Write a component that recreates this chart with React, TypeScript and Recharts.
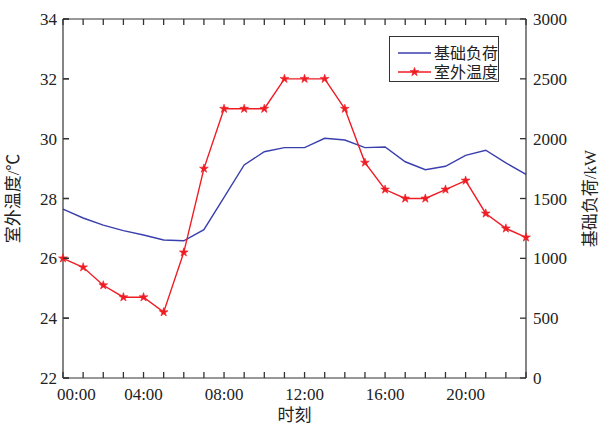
import { Line, LineChart, Symbols, XAxis, YAxis } from "recharts";

const hours = [0, 1, 2, 3, 4, 5, 6, 7, 8, 9, 10, 11, 12, 13, 14, 15, 16, 17, 18, 19, 20, 21, 22, 23];
const temperature = [26, 25.7, 25.1, 24.7, 24.7, 24.2, 26.2, 29, 31, 31, 31, 32, 32, 32, 31, 29.2, 28.3, 28, 28, 28.3, 28.6, 27.5, 27, 26.7];
const baseLoad = [1412, 1337, 1278, 1232, 1195, 1153, 1147, 1239, 1510, 1780, 1891, 1925, 1925, 2003, 1989, 1925, 1930, 1807, 1741, 1769, 1861, 1903, 1797, 1702];
const tempTicks = [22, 24, 26, 28, 30, 32, 34];
const loadTicks = [0, 500, 1000, 1500, 2000, 2500, 3000];
const labeledHours = [0, 4, 8, 12, 16, 20];

const data = hours.map((h, i) => ({ hour: h, temp: temperature[i], load: baseLoad[i] }));

const FONT = '"Liberation Serif", "Times New Roman", "Noto Sans CJK SC", serif';
const AXIS = "#333";
const TEXT = "#222";
const BLUE = "#3a3fae";
const RED = "#f01c24";
const TICK = 6;
const GAP = 8;

// layout of the chart box
const W = 603;
const H = 429;
const MARGIN = { top: 14, right: 10, bottom: 6, left: 0 };
const X_AXIS_H = 45;
const LEFT_W = 63;
const RIGHT_W = 67;
const PLOT_BOTTOM = H - MARGIN.bottom - X_AXIS_H;
const PLOT_LEFT = MARGIN.left + LEFT_W;

const fmtHour = (h: number) => (h < 10 ? "0" + h : "" + h) + ":00";

const BottomLabel = (props: any) => {
  const x = Number(props.x);
  const y = Number(props.y);
  const v = props.payload.value;
  if (!labeledHours.includes(v)) return <g />;
  const first = v === 0;
  return (
    <text x={first ? x - 6 : x} y={y} dy={14} textAnchor={first ? "start" : "middle"} fill={TEXT} fontSize={17} fontFamily={FONT}>
      {fmtHour(v)}
    </text>
  );
};

// top and bottom inward ticks for one hour
const TopTick = (props: any) => {
  const x = Number(props.x);
  const y = Number(props.y);
  return (
    <g>
      <path d={`M${x},${y}L${x},${y + TICK}`} stroke={AXIS} strokeWidth={1.3} fill="none" />
      <path d={`M${x},${PLOT_BOTTOM}L${x},${PLOT_BOTTOM - TICK}`} stroke={AXIS} strokeWidth={1.3} fill="none" />
    </g>
  );
};

const LeftLabel = (props: any) => {
  const x = Number(props.x);
  const y = Number(props.y);
  return (
    <g>
      <path d={`M${PLOT_LEFT},${y}L${PLOT_LEFT + TICK},${y}`} stroke={AXIS} strokeWidth={1.3} fill="none" />
      <text x={x + 2} y={y} dy={6} textAnchor="end" fill={TEXT} fontSize={17} fontFamily={FONT}>
        {props.payload.value}
      </text>
    </g>
  );
};

const RightTick = (props: any) => {
  const x = Number(props.x);
  const y = Number(props.y);
  const axisX = x - GAP;
  return (
    <g>
      <path d={`M${axisX},${y}L${axisX - TICK},${y}`} stroke={AXIS} strokeWidth={1.3} fill="none" />
      <path d={`M${PLOT_LEFT},${y}L${PLOT_LEFT + TICK},${y}`} stroke={AXIS} strokeWidth={1.3} fill="none" />
      <text x={x - 1} y={y} dy={6} textAnchor="start" fill={TEXT} fontSize={17} fontFamily={FONT}>
        {props.payload.value}
      </text>
    </g>
  );
};

const StarDot = (props: any) => {
  const { cx, cy, index } = props;
  if (cx == null || cy == null) return <g key={index} />;
  return <Symbols key={index} cx={cx} cy={cy} type="star" size={24} fill={RED} stroke={RED} strokeWidth={0.6} />;
};

const SideLabel = (text: string, dxFromAxis: number) => (props: any) => {
  const vb = props.viewBox;
  const cx = vb.x + dxFromAxis;
  const cy = vb.y + vb.height / 2;
  return (
    <text x={cx} y={cy} transform={`rotate(-90 ${cx} ${cy})`} textAnchor="middle" dominantBaseline="central" fill={TEXT} fontSize={17} fontFamily={FONT}>
      {text}
    </text>
  );
};

const LegendBox = () => (
  <div style={{ position: "absolute", left: 389, top: 36, border: "1px solid #333", background: "#fff", width: 110, height: 46, boxSizing: "border-box" }}>
    <svg width={108} height={44} style={{ display: "block" }}>
      <line x1={8} y1={16} x2={41} y2={16} stroke={BLUE} strokeWidth={1.4} />
      <text x={44} y={16} dominantBaseline="central" fontSize={16} fill={TEXT} fontFamily={FONT}>基础负荷</text>
      <line x1={8} y1={35} x2={41} y2={35} stroke={RED} strokeWidth={1.4} />
      <Symbols cx={24.5} cy={35} type="star" size={24} fill={RED} stroke={RED} strokeWidth={0.6} />
      <text x={44} y={35} dominantBaseline="central" fontSize={16} fill={TEXT} fontFamily={FONT}>室外温度</text>
    </svg>
  </div>
);

export default function App() {
  return (
    <div style={{ position: "absolute", left: 0, top: 0, width: W, height: H, background: "#fff" }}>
      <LineChart width={W} height={H} data={data} margin={MARGIN}>
        <XAxis
          dataKey="hour"
          type="number"
          domain={[0, 23]}
          ticks={hours}
          interval={0}
          xAxisId="bottom"
          height={X_AXIS_H}
          stroke={AXIS}
          strokeWidth={1.2}
          tickLine={false}
          tickSize={0}
          tickMargin={GAP}
          tick={<BottomLabel />}
          label={{ value: "时刻", position: "insideBottom", offset: 2, fill: TEXT, fontSize: 17, fontFamily: FONT }}
        />
        <XAxis
          dataKey="hour"
          type="number"
          domain={[0, 23]}
          ticks={hours}
          interval={0}
          xAxisId="top"
          orientation="top"
          height={5}
          stroke={AXIS}
          strokeWidth={1.2}
          tickLine={false}
          tickSize={0}
          tickMargin={0}
          tick={<TopTick />}
        />
        <YAxis
          yAxisId="temp"
          domain={[22, 34]}
          ticks={tempTicks}
          interval={0}
          width={LEFT_W}
          stroke={AXIS}
          strokeWidth={1.2}
          tickLine={false}
          tickSize={0}
          tickMargin={GAP}
          tick={<LeftLabel />}
          label={{ content: SideLabel("室外温度/℃", 13) }}
        />
        <YAxis
          yAxisId="load"
          orientation="right"
          domain={[0, 3000]}
          ticks={loadTicks}
          interval={0}
          width={RIGHT_W}
          stroke={AXIS}
          strokeWidth={1.2}
          tickLine={false}
          tickSize={0}
          tickMargin={GAP}
          tick={<RightTick />}
          label={{ content: SideLabel("基础负荷/kW", 64) }}
        />
        <Line xAxisId="bottom" yAxisId="load" dataKey="load" type="linear" stroke={BLUE} strokeWidth={1.4} dot={false} isAnimationActive={false} />
        <Line xAxisId="bottom" yAxisId="temp" dataKey="temp" type="linear" stroke={RED} strokeWidth={1.4} dot={StarDot} isAnimationActive={false} />
      </LineChart>
      <LegendBox />
    </div>
  );
}
